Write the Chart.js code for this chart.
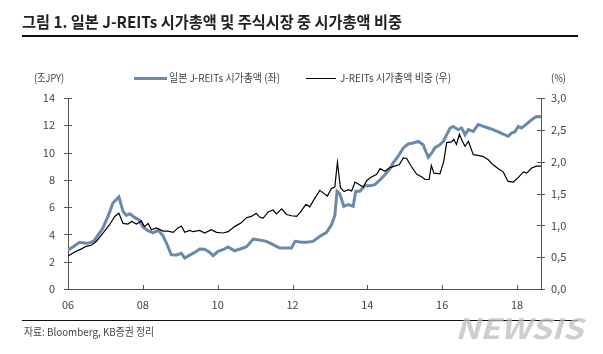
<!DOCTYPE html>
<html>
<head>
<meta charset="utf-8">
<script src="https://cdn.jsdelivr.net/npm/chart.js@4.4.0/dist/chart.umd.min.js"></script>
<style>
  body { margin: 0; background: #fff; font-family: "Noto Sans CJK KR", sans-serif; }
  #page { position: relative; width: 603px; height: 354px; overflow: hidden; }
  #page canvas { position: absolute; left: 0; top: 0; }
  .txt { position: absolute; white-space: nowrap; transform-origin: 0 50%; line-height: 1; color: #444; }
  .rule { position: absolute; background: #111; }
</style>
</head>
<body>
<div id="page">
  <canvas id="graficaLinea" width="603" height="354"></canvas>
  <div class="txt" data-w="380" style="left:22px;top:13px;font-size:16px;font-weight:bold;color:#222">그림 1. 일본 J-REITs 시가총액 및 주식시장 중 시가총액 비중</div>
  <div class="rule" style="left:22px;top:35px;width:556px;height:1.5px"></div>

  <div class="txt" data-w="30" style="left:34px;top:72px;font-size:11px">(조JPY)</div>
  <div class="rule" style="left:134px;top:77px;width:33px;height:3px;background:#6a89ab"></div>
  <div class="txt" data-w="111" style="left:169px;top:72px;font-size:11px">일본 J-REITs 시가총액 (좌)</div>
  <div class="rule" style="left:306px;top:78px;width:30px;height:1.2px;background:#000"></div>
  <div class="txt" data-w="111" style="left:340px;top:72px;font-size:11px">J-REITs 시가총액 비중 (우)</div>
  <div class="txt" data-w="15" style="left:551px;top:72px;font-size:11px">(%)</div>

  <div class="rule" style="left:22px;top:320px;width:556px;height:1.2px"></div>
  <div class="txt" data-w="130" style="left:24px;top:326px;font-size:11px">자료: Bloomberg, KB증권 정리</div>
  <div class="txt" data-w="128" style="left:455px;top:313px;font-size:28px;font-weight:bold;font-style:italic;color:rgba(190,190,190,0.75)">NEWSIS</div>
</div>
<script>
// 일본 J-REITs 시가총액 (조JPY), 좌축
const capYears = [2006.00, 2006.14, 2006.31, 2006.49, 2006.60, 2006.70, 2006.80, 2006.92, 2007.03, 2007.12,
  2007.20, 2007.29, 2007.36, 2007.47, 2007.56, 2007.65, 2007.78, 2007.91, 2008.00, 2008.14,
  2008.27, 2008.41, 2008.54, 2008.63, 2008.76, 2008.90, 2009.03, 2009.12, 2009.25, 2009.39,
  2009.52, 2009.65, 2009.79, 2009.88, 2010.01, 2010.14, 2010.28, 2010.45, 2010.60, 2010.77,
  2010.95, 2011.15, 2011.30, 2011.48, 2011.66, 2011.83, 2011.97, 2012.07, 2012.24, 2012.37,
  2012.55, 2012.73, 2012.91, 2013.04, 2013.13, 2013.19, 2013.26, 2013.37, 2013.49, 2013.62,
  2013.69, 2013.80, 2013.93, 2014.07, 2014.20, 2014.34, 2014.47, 2014.60, 2014.69, 2014.82,
  2014.96, 2015.09, 2015.22, 2015.36, 2015.49, 2015.58, 2015.63, 2015.72, 2015.80, 2015.94,
  2016.03, 2016.12, 2016.21, 2016.29, 2016.43, 2016.52, 2016.61, 2016.70, 2016.83, 2016.96,
  2017.10, 2017.23, 2017.36, 2017.50, 2017.63, 2017.76, 2017.86, 2017.94, 2018.03, 2018.12,
  2018.26, 2018.39, 2018.52, 2018.64];
const capValues = [2.85, 3.10, 3.42, 3.35, 3.40, 3.55, 3.95, 4.40, 5.08, 5.69,
  6.30, 6.55, 6.75, 5.70, 5.40, 5.52, 5.25, 5.05, 4.55, 4.28,
  4.12, 4.30, 3.90, 3.37, 2.51, 2.50, 2.62, 2.27, 2.48, 2.68,
  2.93, 2.92, 2.68, 2.44, 2.76, 2.88, 3.08, 2.80, 2.93, 3.10,
  3.66, 3.58, 3.49, 3.25, 3.00, 3.00, 3.00, 3.49, 3.42, 3.42,
  3.49, 3.86, 4.15, 4.71, 5.37, 7.16, 6.99, 6.06, 6.18, 6.06,
  7.16, 7.16, 7.57, 7.57, 7.65, 8.01, 8.38, 8.80, 9.24, 9.72,
  10.34, 10.63, 10.70, 10.82, 10.58, 9.97, 9.65, 9.97, 10.34, 10.58,
  10.82, 11.31, 11.80, 11.92, 11.68, 11.80, 11.31, 11.68, 11.55, 12.05,
  11.92, 11.80, 11.68, 11.51, 11.36, 11.19, 11.44, 11.51, 11.92, 11.80,
  12.10, 12.41, 12.65, 12.62];

// J-REITs 시가총액 비중 (%), 우축
const shareYears = [2006.00, 2006.18, 2006.36, 2006.49, 2006.63, 2006.76, 2006.94, 2007.11, 2007.25, 2007.36,
  2007.47, 2007.60, 2007.70, 2007.83, 2007.96, 2008.04, 2008.14, 2008.23, 2008.36, 2008.54,
  2008.67, 2008.81, 2008.94, 2009.03, 2009.12, 2009.25, 2009.34, 2009.52, 2009.65, 2009.83,
  2009.97, 2010.14, 2010.28, 2010.45, 2010.63, 2010.77, 2010.90, 2011.03, 2011.12, 2011.21,
  2011.35, 2011.48, 2011.57, 2011.71, 2011.84, 2011.97, 2012.11, 2012.20, 2012.36, 2012.46,
  2012.59, 2012.73, 2012.82, 2012.93, 2013.04, 2013.13, 2013.20, 2013.28, 2013.38, 2013.49,
  2013.58, 2013.67, 2013.78, 2013.89, 2013.98, 2014.11, 2014.25, 2014.34, 2014.47, 2014.58,
  2014.73, 2014.85, 2014.96, 2015.05, 2015.18, 2015.32, 2015.46, 2015.54, 2015.65, 2015.71,
  2015.78, 2015.94, 2016.04, 2016.12, 2016.25, 2016.31, 2016.38, 2016.46, 2016.55, 2016.61,
  2016.70, 2016.83, 2016.96, 2017.10, 2017.23, 2017.36, 2017.50, 2017.63, 2017.76, 2017.90,
  2018.03, 2018.17, 2018.26, 2018.39, 2018.52, 2018.64];
const shareValues = [0.52, 0.58, 0.63, 0.67, 0.69, 0.75, 0.88, 1.01, 1.14, 1.19,
  1.03, 1.02, 1.06, 1.02, 1.07, 0.98, 1.03, 0.93, 0.96, 0.91,
  0.91, 0.89, 0.96, 0.99, 0.89, 0.92, 0.90, 0.92, 0.88, 0.93,
  0.89, 0.88, 0.90, 0.98, 1.04, 1.12, 1.14, 1.19, 1.13, 1.11,
  1.21, 1.24, 1.18, 1.26, 1.17, 1.15, 1.14, 1.20, 1.33, 1.29,
  1.42, 1.55, 1.51, 1.46, 1.58, 1.60, 1.99, 1.59, 1.53, 1.56,
  1.54, 1.68, 1.64, 1.60, 1.70, 1.76, 1.80, 1.89, 1.85, 1.90,
  1.93, 1.95, 2.06, 2.05, 1.92, 1.80, 1.76, 1.72, 1.72, 1.94,
  1.82, 1.81, 2.00, 2.30, 2.31, 2.35, 2.27, 2.43, 2.31, 2.24,
  2.32, 2.11, 2.10, 2.08, 2.03, 1.95, 1.89, 1.84, 1.69, 1.68,
  1.75, 1.84, 1.82, 1.90, 1.93, 1.93];

const yearTicks = [2006, 2008, 2010, 2012, 2014, 2016, 2018];
const xMin = 2006, xMax = 2018.64;

// texto: ajustar ancho
document.querySelectorAll('.txt').forEach(el => {
  const w = +el.dataset.w;
  const real = el.getBoundingClientRect().width;
  if (w && real) el.style.transform = 'scaleX(' + (w / real) + ')';
});

const axisColor = '#555';

// marcas de escala cruzadas
const tickMarks = {
  id: 'tickMarks',
  afterDraw(chart) {
    const {ctx, chartArea: a, scales} = chart;
    ctx.save();
    ctx.strokeStyle = axisColor;
    ctx.lineWidth = 1;
    ctx.beginPath();
    scales.y.ticks.forEach(t => {
      const y = Math.round(scales.y.getPixelForValue(t.value)) + 0.5;
      ctx.moveTo(a.left - 4, y); ctx.lineTo(a.left + 4, y);
    });
    scales.y1.ticks.forEach(t => {
      const y = Math.round(scales.y1.getPixelForValue(t.value)) + 0.5;
      ctx.moveTo(a.right - 4, y); ctx.lineTo(a.right + 4, y);
    });
    scales.x.ticks.forEach(t => {
      const x = Math.round(scales.x.getPixelForValue(t.value)) + 0.5;
      ctx.moveTo(x, a.bottom); ctx.lineTo(x, a.bottom - 4);
    });
    ctx.stroke();
    ctx.restore();
  }
};

const ctx = document.getElementById('graficaLinea').getContext('2d');
const myChart = new Chart(ctx, {
  type: 'line',
  data: {
    datasets: [{
      label: '일본 J-REITs 시가총액 (좌)',
      data: capYears.map((x, i) => ({x: x, y: capValues[i]})),
      borderColor: '#6a89ab',
      borderWidth: 3,
      pointRadius: 0,
      tension: 0,
      yAxisID: 'y',
      order: 2
    }, {
      label: 'J-REITs 시가총액 비중 (우)',
      data: shareYears.map((x, i) => ({x: x, y: shareValues[i]})),
      borderColor: '#000',
      borderWidth: 1.2,
      pointRadius: 0,
      tension: 0,
      yAxisID: 'y1',
      order: 1
    }]
  },
  options: {
    responsive: false,
    animation: false,
    layout: {padding: {top: 98, left: 0, right: 0, bottom: 0}},
    plugins: {legend: {display: false}, tooltip: {enabled: false}},
    scales: {
      x: {
        type: 'linear',
        min: xMin,
        max: xMax,
        afterBuildTicks: s => { s.ticks = yearTicks.map(v => ({value: v})); },
        afterFit: s => { s.height = 65; },
        grid: {display: false, drawTicks: false},
        border: {display: true, color: axisColor, width: 1},
        ticks: {
          padding: 9,
          color: '#444',
          font: {family: 'Noto Sans CJK KR', size: 11},
          callback: v => String(v % 100).padStart(2, '0')
        }
      },
      y: {
        position: 'left',
        min: 0,
        max: 14,
        afterFit: s => { s.width = 68; },
        grid: {display: false, drawTicks: false},
        border: {display: true, color: axisColor, width: 1},
        ticks: {
          stepSize: 2,
          padding: 13,
          color: '#444',
          font: {family: 'Noto Sans CJK KR', size: 11}
        }
      },
      y1: {
        position: 'right',
        min: 0,
        max: 3,
        afterFit: s => { s.width = 62; },
        grid: {display: false, drawTicks: false},
        border: {display: true, color: axisColor, width: 1},
        ticks: {
          stepSize: 0.5,
          padding: 10,
          color: '#444',
          font: {family: 'Noto Sans CJK KR', size: 11},
          callback: v => v.toFixed(1).replace('.', ',')
        }
      }
    }
  },
  plugins: [tickMarks]
});
</script>
</body>
</html>
